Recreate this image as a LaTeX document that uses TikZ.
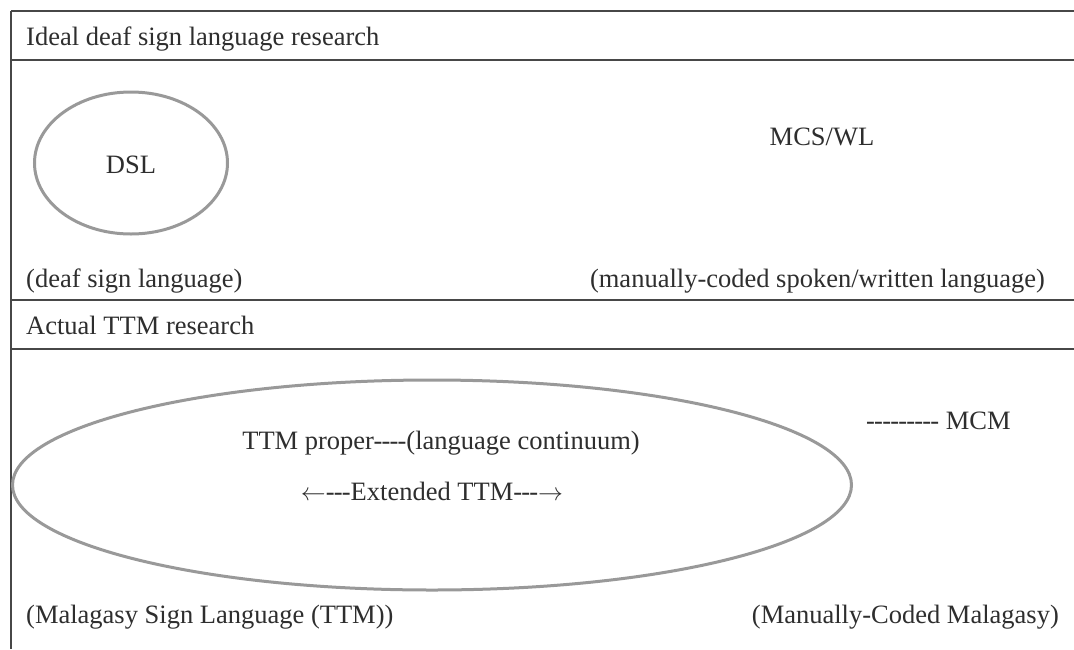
\documentclass[tikz,border=0pt]{standalone}
\usepackage{fontspec}
\setmainfont{Liberation Serif}
\usetikzlibrary{shapes.geometric}
\newcommand{\nh}{-\kern-0.8pt}
\begin{document}
\begin{tikzpicture}[x=1pt,y=-1pt,
  rule/.style={draw=black!72,line width=2.2pt},
  oval/.style={draw=black!40,line width=3pt},
  lbl/.style={inner sep=0pt,font=\fontsize{26.5}{31}\selectfont,text=black!82}]
\useasboundingbox[fill=white] (0,0) rectangle (1074,649);
\coordinate (tl) at (11,11);
\coordinate (bl) at (11,649);
\draw[rule] (tl) -- (bl);
\draw[rule] (11,11) -- (1074,11);
\draw[rule] (11,60) -- (1074,60);
\draw[rule] (11,300) -- (1074,300);
\draw[rule] (11,349) -- (1074,349);
\node[oval,ellipse,minimum width=193pt,minimum height=142pt,inner sep=0pt] (dslo) at (131,163) {};
\node[oval,ellipse,minimum width=839pt,minimum height=210pt,inner sep=0pt] (ttmo) at (432,485) {};
\node[lbl,anchor=base west] (t1) at (26,45) {Ideal deaf sign language research};
\node[lbl,anchor=base] (dsl) at (131,173) {DSL};
\node[lbl,anchor=base] (mcs) at (822,145) {MCS/WL};
\node[lbl,anchor=base west] (dslx) at (26,287) {(deaf sign language)};
\node[lbl,anchor=base east] (mcsx) at (1045,287) {(manually-coded spoken/written language)};
\node[lbl,anchor=base west] (t2) at (26,334) {Actual TTM research};
\node[lbl,anchor=base] (ttmp) at (441,449) {TTM proper\nh\nh\nh-(language continuum)};
\node[lbl,anchor=base] (ext) at (432,500) {$\leftarrow$\nh\nh-Extended TTM\nh\nh-$\rightarrow$};
\node[lbl,anchor=base west] (mcm) at (866,429) {\nh\nh\nh\nh\nh\nh\nh\nh- MCM};
\node[lbl,anchor=base west] (msl) at (26,623) {(Malagasy Sign Language (TTM))};
\node[lbl,anchor=base east] (mcmx) at (1059,623) {(Manually-Coded Malagasy)};
\end{tikzpicture}
\end{document}
